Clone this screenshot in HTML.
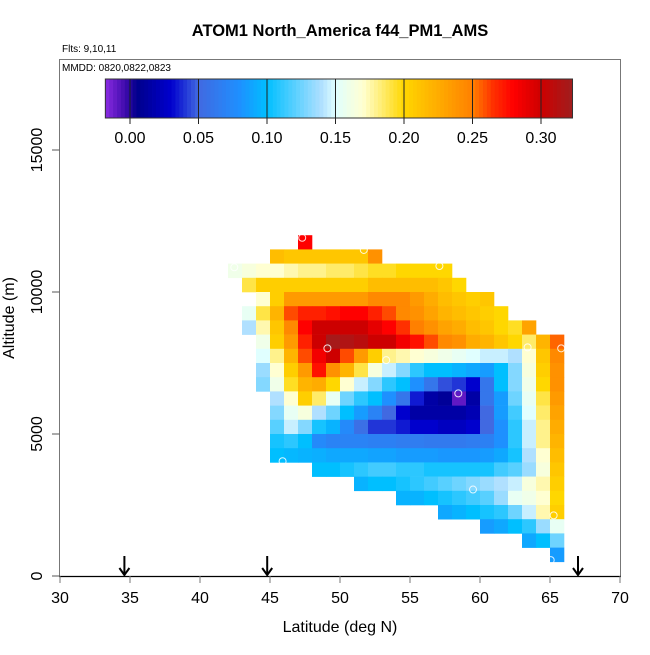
<!DOCTYPE html>
<html><head><meta charset="utf-8"><style>
body{margin:0;background:#fff;}
svg text{font-family:"Liberation Sans",Arial,sans-serif;}
</style></head><body>
<svg id="chart" width="650" height="650" viewBox="0 0 650 650" xmlns="http://www.w3.org/2000/svg">
<text x="340" y="36" text-anchor="middle" font-size="16.5" font-weight="bold">ATOM1 North_America f44_PM1_AMS</text>
<text x="62" y="52" font-size="10">Flts: 9,10,11</text>
<rect x="59.5" y="59.5" width="561" height="517" fill="none" stroke="#777" stroke-width="1"/>
<text x="62" y="71" font-size="10">MMDD: 0820,0822,0823</text>
<g id="cells"></g>
<g id="marks"></g>
<g id="cbar"></g>
<g id="axes"></g>
<g id="arrows"></g>
<text x="340" y="632" text-anchor="middle" font-size="16">Latitude (deg N)</text>
<text transform="translate(14,318) rotate(-90)" text-anchor="middle" font-size="16">Altitude (m)</text>
</svg>
<script>
const latStart = 42;       // first column lower lat edge
const altTop = 12000;      // first row upper edge
const cellLat = 1, cellAlt = 500;
const rowStart = [5,3,0,1,2,1,1,2,2,2,2,3,3,3,3,3,6,9,12,15,18,21,23];
const rowVals = [
 [0.28],
 [0.215,0.21,0.21,0.21,0.21,0.21,0.21,0.24],
 [0.16,0.165,0.17,0.17,0.175,0.18,0.18,0.185,0.185,0.19,0.195,0.195,0.2,0.2,0.2,0.2],
 [0.19,0.205,0.205,0.205,0.205,0.205,0.205,0.205,0.205,0.215,0.215,0.215,0.215,0.215,0.21,0.20],
 [0.17,0.205,0.235,0.235,0.235,0.235,0.235,0.235,0.245,0.245,0.245,0.235,0.225,0.215,0.21,0.205,0.21],
 [0.155,0.19,0.22,0.26,0.27,0.27,0.275,0.28,0.28,0.27,0.26,0.245,0.24,0.23,0.22,0.215,0.21,0.205,0.20],
 [0.14,0.175,0.21,0.245,0.28,0.30,0.30,0.30,0.30,0.29,0.28,0.265,0.25,0.24,0.23,0.225,0.215,0.21,0.20,0.195,0.23],
 [0.16,0.205,0.235,0.27,0.30,0.32,0.315,0.31,0.30,0.30,0.285,0.275,0.26,0.245,0.24,0.225,0.22,0.21,0.20,0.185,0.22,0.255],
 [0.15,0.18,0.22,0.26,0.285,0.30,0.26,0.235,0.205,0.18,0.175,0.17,0.165,0.16,0.155,0.15,0.145,0.145,0.14,0.17,0.21,0.245],
 [0.135,0.17,0.205,0.235,0.275,0.24,0.22,0.19,0.165,0.145,0.13,0.11,0.10,0.10,0.095,0.09,0.085,0.10,0.13,0.165,0.205,0.24],
 [0.13,0.16,0.195,0.22,0.225,0.2,0.17,0.145,0.13,0.11,0.10,0.08,0.06,0.045,0.04,0.03,0.06,0.10,0.13,0.16,0.2,0.24],
 [0.14,0.17,0.205,0.185,0.155,0.125,0.11,0.10,0.08,0.06,0.035,0.015,0.01,-0.01,0.015,0.06,0.085,0.125,0.155,0.19,0.235],
 [0.13,0.155,0.165,0.14,0.125,0.10,0.085,0.07,0.05,0.03,0.015,0.015,0.015,0.015,0.02,0.05,0.085,0.115,0.15,0.185,0.23],
 [0.12,0.145,0.13,0.105,0.095,0.075,0.055,0.04,0.04,0.035,0.03,0.03,0.025,0.025,0.03,0.05,0.08,0.11,0.145,0.18,0.225],
 [0.105,0.11,0.10,0.075,0.07,0.07,0.07,0.068,0.068,0.065,0.065,0.063,0.063,0.063,0.065,0.068,0.08,0.11,0.145,0.18,0.22],
 [0.10,0.097,0.095,0.093,0.09,0.09,0.09,0.088,0.088,0.085,0.085,0.085,0.083,0.083,0.083,0.085,0.09,0.105,0.14,0.17,0.215],
 [0.10,0.10,0.105,0.11,0.115,0.115,0.11,0.11,0.105,0.105,0.105,0.105,0.105,0.115,0.12,0.135,0.165,0.21],
 [0.095,0.10,0.10,0.105,0.11,0.115,0.12,0.125,0.13,0.135,0.14,0.145,0.165,0.175,0.205],
 [0.095,0.095,0.10,0.105,0.11,0.115,0.12,0.135,0.155,0.16,0.17,0.20],
 [0.09,0.095,0.10,0.105,0.11,0.125,0.145,0.175,0.205],
 [0.085,0.09,0.10,0.11,0.135,0.155],
 [0.09,0.10,0.125],
 [0.085]
];
const pointLat = [47.3,51.7,57.1,42.45,49.1,53.3,63.4,65.8,58.45,45.9,59.5,65.26,65.05];
const pointAlt = [11910,11480,10915,10870,8017,7600,8050,8017,6430,4040,3045,2135,560];
const arrowLat = [34.6,44.8,67.0];
const xTicks = [30,35,40,45,50,55,60,65,70];
const yTicks = [0,5000,10000,15000];
const cbTicks = [0.00,0.05,0.10,0.15,0.20,0.25,0.30];
const cbMin = -0.018, cbMax = 0.323;

const X = v => 60 + (v-30)*14;
const Y = v => 576 - v*0.0284;
const CB = v => 130 + (v-0)*(541-130)/0.30;

const stops=[[-0.018,[138,43,226]],[-0.003,[60,10,170]],[0.005,[0,0,139]],[0.03,[0,0,205]],[0.05,[65,105,225]],[0.08,[30,144,255]],[0.10,[0,191,255]],[0.14,[176,224,255]],[0.15,[224,255,255]],[0.17,[255,255,210]],[0.20,[255,215,0]],[0.25,[255,128,0]],[0.265,[255,48,0]],[0.28,[255,0,0]],[0.30,[205,0,0]],[0.323,[160,30,30]]];
function col(v){
 if(v<=stops[0][0])return 'rgb('+stops[0][1]+')';
 for(let i=1;i<stops.length;i++){if(v<=stops[i][0]){const a=stops[i-1],b=stops[i],t=(v-a[0])/(b[0]-a[0]);return 'rgb('+a[1].map((c,j)=>Math.round(c+(b[1][j]-c)*t)).join(',')+')';}}
 return 'rgb('+stops[stops.length-1][1]+')';
}
const NS='http://www.w3.org/2000/svg';
function mk(tag,attrs,parent){const e=document.createElementNS(NS,tag);for(const k in attrs)e.setAttribute(k,attrs[k]);parent.appendChild(e);return e;}
const cells=document.getElementById('cells');
rowVals.forEach((row,r)=>{
 const a1=altTop-r*cellAlt, a0=a1-cellAlt;
 row.forEach((v,i)=>{
  const lat=latStart+rowStart[r]+i;
  const e=mk('rect',{x:X(lat),y:Y(a1),width:X(lat+cellLat)-X(lat)+0.3,height:Y(a0)-Y(a1)+0.3,fill:col(v)},cells);
  
  
 });
});
const marks=document.getElementById('marks');
pointLat.forEach((la,i)=>{
 const e=mk('circle',{cx:X(la),cy:Y(pointAlt[i]),r:3.5,fill:'none',stroke:'#fff','stroke-width':1,opacity:0.85},marks);
 
 
});
const cb=document.getElementById('cbar');
const N=120;
for(let i=0;i<N;i++){const v=cbMin+(cbMax-cbMin)*i/N, v2=cbMin+(cbMax-cbMin)*(i+1)/N;
 const e=mk('rect',{x:CB(v),y:79,width:CB(v2)-CB(v)+0.4,height:39,fill:col((v+v2)/2)},cb);
 
 
}
mk('rect',{x:CB(cbMin),y:79,width:CB(cbMax)-CB(cbMin),height:39,fill:'none',stroke:'#333','stroke-width':1},cb);
cbTicks.forEach(t=>{
 mk('line',{x1:CB(t),x2:CB(t),y1:79,y2:124,stroke:'#222','stroke-width':1},cb);
 const e=mk('text',{x:CB(t),y:143,'text-anchor':'middle','font-size':16},cb);
 e.textContent=t.toFixed(2);
 
 
});
const ax=document.getElementById('axes');
mk('line',{x1:59,x2:621,y1:576.5,y2:576.5,stroke:'#000','stroke-width':1.2},ax);
xTicks.forEach(t=>{
 mk('line',{x1:X(t),x2:X(t),y1:576,y2:583,stroke:'#777'},ax);
 const e=mk('text',{x:X(t),y:603,'text-anchor':'middle','font-size':16},ax);
 e.textContent=t;
 
 
});
yTicks.forEach(t=>{
 mk('line',{x1:52,x2:59.5,y1:Y(t),y2:Y(t),stroke:'#555'},ax);
 const e=mk('text',{x:0,y:0,'text-anchor':'middle','font-size':16,transform:'translate(42,'+Y(t)+') rotate(-90)'},ax);
 e.textContent=t;
 
 
});
const ar=document.getElementById('arrows');
arrowLat.forEach(la=>{
 const x=X(la);
 const g=mk('g',{},ar);
 
 
 mk('line',{x1:x,x2:x,y1:556,y2:575,stroke:'#000','stroke-width':2},g);
 mk('polyline',{points:(x-5)+',568 '+x+',575 '+(x+5)+',568',fill:'none',stroke:'#000','stroke-width':2},g);
});
</script>
</body></html>
